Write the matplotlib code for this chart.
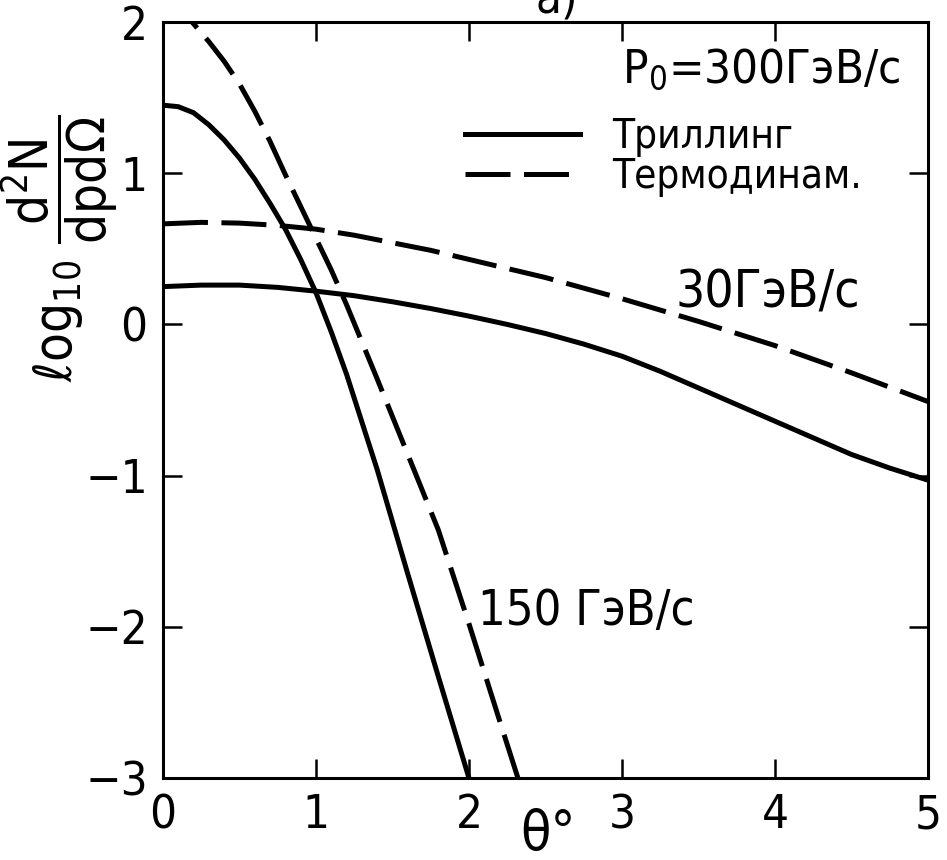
import matplotlib
matplotlib.use("Agg")
import matplotlib.pyplot as plt

plt.rcParams['font.family'] = ['DejaVu Sans']
plt.rcParams['font.stretch'] = 'condensed'
plt.rcParams['mathtext.fontset'] = 'dejavusans'

# 150 GeV/c curves (steep)
theta_150_tr = [0.0, 0.1, 0.2, 0.3, 0.4, 0.5, 0.6, 0.7, 0.8, 0.9, 1.0,
                1.1, 1.2, 1.4, 1.6, 1.8, 2.0]
logn_150_tr = [1.45, 1.44, 1.40, 1.32, 1.22, 1.10, 0.96, 0.80, 0.63, 0.43,
               0.21, -0.05, -0.33, -0.96, -1.65, -2.33, -3.0]
theta_150_th = [0.0, 0.1, 0.19, 0.3, 0.4, 0.5, 0.6, 0.7, 0.8, 0.9, 1.0,
                1.1, 1.2, 1.4, 1.6, 1.8, 2.0, 2.2, 2.32]
logn_150_th = [2.15, 2.09, 2.0, 1.87, 1.74, 1.59, 1.41, 1.21, 0.99, 0.78,
               0.57, 0.36, 0.13, -0.36, -0.86, -1.36, -1.98, -2.62, -3.0]

# 30 GeV/c curves (flat)
theta_30 = [0.0, 0.25, 0.5, 0.75, 1.0, 1.25, 1.5, 1.75, 2.0, 2.25, 2.5,
            2.75, 3.0, 3.25, 3.5, 3.75, 4.0, 4.25, 4.5, 4.75, 5.0]
logn_30_tr = [0.25, 0.26, 0.26, 0.245, 0.22, 0.19, 0.15, 0.105, 0.055, 0.0,
              -0.06, -0.13, -0.21, -0.31, -0.42, -0.53, -0.64, -0.75, -0.86,
              -0.95, -1.03]
logn_30_th = [0.665, 0.675, 0.67, 0.655, 0.63, 0.59, 0.54, 0.49, 0.43, 0.37,
              0.31, 0.24, 0.17, 0.095, 0.02, -0.06, -0.14, -0.23, -0.32,
              -0.415, -0.51]

xticks = [0, 1, 2, 3, 4, 5]
yticks = [-3, -2, -1, 0, 1, 2]

lw = 3.6
dash = (9, 2.7)

fig = plt.figure(figsize=(9.47, 8.60), dpi=100)
ax = fig.add_axes([0.1721, 0.0953, 0.8078, 0.8791])

ax.plot(theta_150_tr, logn_150_tr, color='black', lw=lw, label='Триллинг')
ax.plot(theta_150_th, logn_150_th, color='black', lw=lw, dashes=dash,
        label='Термодинам.')
ax.plot(theta_30, logn_30_tr, color='black', lw=lw)
ax.plot(theta_30, logn_30_th, color='black', lw=lw, dashes=dash)

ax.set_xlim(0, 5)
ax.set_ylim(-3, 2)
ax.set_xticks(xticks)
ax.set_yticks(yticks)
ax.set_xticklabels([str(t) for t in xticks])
ax.set_yticklabels(['\u2212' + str(-t) if t < 0 else str(t) for t in yticks])
ax.tick_params(direction='in', length=14, width=1.8, labelsize=34, pad=11,
               top=True, right=True)
for s in ax.spines.values():
    s.set_linewidth(2.2)

ax.set_ylabel(r'$\ell$og$_{10}$ $\dfrac{\mathrm{d^2N}}{\mathrm{dpd}\Omega}$',
              fontsize=38)
ax.yaxis.set_label_coords(-0.056, 0.70)

ax.text(0.503, -0.075, 'θ°', transform=ax.transAxes, fontsize=40,
        ha='center', va='center')

ax.text(3.0, 1.60, 'P$_0$=300ГэВ/с', fontsize=34, ha='left', va='baseline')
ax.text(3.35, 0.11, '30ГэВ/с', fontsize=37, ha='left', va='baseline')
ax.text(2.06, -1.99, '150 ГэВ/с', fontsize=35, ha='left', va='baseline')

ax.legend(loc='upper left', bbox_to_anchor=(0.395, 0.874), frameon=False,
          fontsize=29, handlelength=2.85, handletextpad=0.8,
          labelspacing=0.0, borderpad=0, borderaxespad=0)

fig.text(0.588, 0.986, 'а)', fontsize=34, ha='center', va='baseline')

fig.savefig('out.png', dpi=100)
